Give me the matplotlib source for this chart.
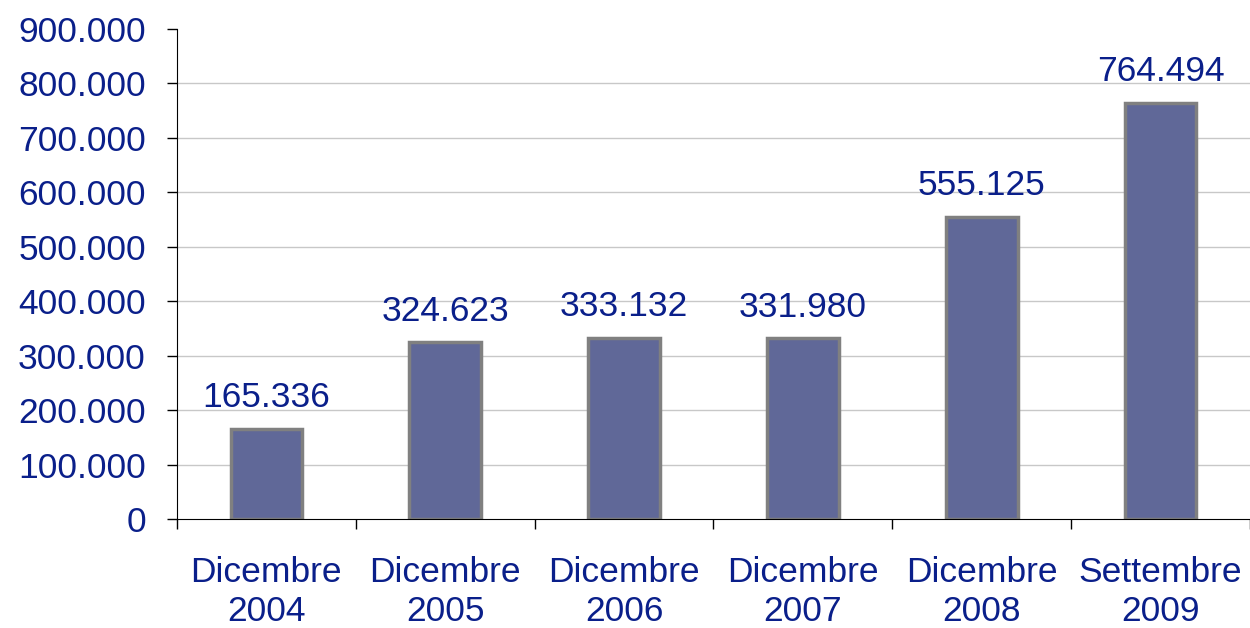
import matplotlib
matplotlib.use("Agg")
import matplotlib.pyplot as plt
from matplotlib.ticker import FuncFormatter, FixedLocator
import numpy as np

categories = ["Dicembre\n2004", "Dicembre\n2005", "Dicembre\n2006",
              "Dicembre\n2007", "Dicembre\n2008", "Settembre\n2009"]
values = [165336, 324623, 333132, 331980, 555125, 764494]
y_ticks = list(range(0, 900001, 100000))

TXT = "#0a1f8a"
FS = 25.5
plt.rcParams['font.family'] = ['Liberation Sans', 'DejaVu Sans']

def fmt(v, pos=None):
    return f"{int(v):,}".replace(",", ".")

fig = plt.figure(figsize=(12.5, 6.28), dpi=100)
ax = fig.add_axes([0.1416, 0.1736, 0.8584, 0.7802])

x = np.arange(len(categories))
bars = ax.bar(x, values, width=0.4, color="#606898", edgecolor="#808080",
              linewidth=2.5, zorder=3)
for xi, v in zip(x, values):
    ax.annotate(fmt(v), (xi, v), xytext=(0, 15.5), textcoords="offset points",
                ha="center", va="baseline", fontsize=FS, color=TXT)

ax.set_xlim(-0.5, len(categories) - 0.5)
ax.set_ylim(0, 900000)
ax.set_yticks(y_ticks)
ax.yaxis.set_major_formatter(FuncFormatter(fmt))
ax.set_xticks(x)
ax.set_xticklabels(categories, fontsize=FS, color=TXT, linespacing=1.22)
ax.xaxis.set_minor_locator(FixedLocator(np.arange(-0.5, len(categories), 1.0)))
ax.tick_params(axis="x", which="major", length=0, pad=27)
ax.tick_params(axis="x", which="minor", length=7.5, width=1, color="black", direction="out")
ax.tick_params(axis="y", length=7.5, width=1, color="black", direction="out",
               labelsize=FS, labelcolor=TXT, pad=15)

for yv in y_ticks[1:-1]:
    ax.axhline(yv, color="#c8c8c8", linewidth=1, zorder=1)

for s in ["top", "right"]:
    ax.spines[s].set_visible(False)
ax.spines["left"].set_color("black")
ax.spines["bottom"].set_color("black")
ax.spines["bottom"].set_zorder(4)

fig.savefig("out.png", dpi=100)
